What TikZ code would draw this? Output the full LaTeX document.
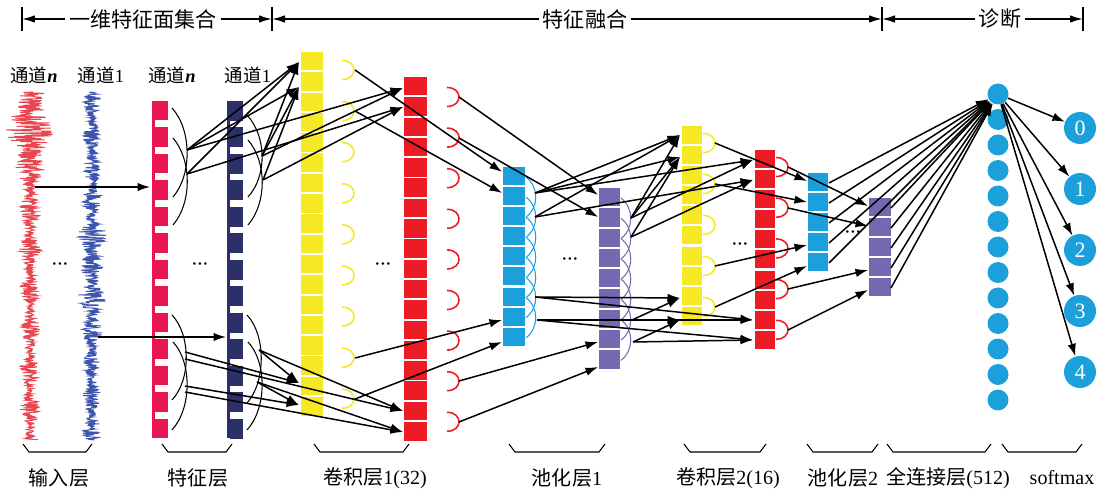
\documentclass[tikz,border=0pt]{standalone}
\usepackage{fontspec}
\setmainfont{Liberation Serif}
\newfontfamily\cjk{Noto Sans CJK SC}
\usetikzlibrary{arrows.meta}
\definecolor{sigred}{RGB}{232,70,80}
\definecolor{sigblue}{RGB}{60,85,175}
\definecolor{featred}{RGB}{232,22,82}
\definecolor{navy}{RGB}{43,48,104}
\definecolor{ylw}{RGB}{246,232,36}
\definecolor{cred}{RGB}{237,28,36}
\definecolor{nnblue}{RGB}{27,160,219}
\definecolor{purp}{RGB}{116,105,176}
\newcommand\cells[7]{\foreach \k in {1,...,#4}{\fill[#7] (#1,{#3+(\k-1)*#6}) rectangle ({#1+#2},{#3+(\k-1)*#6+#5});}}
\newcommand\darc[3]{\draw[#3, line width=0.9pt] (#1,{#2-9.5}) .. controls ({#1+16},{#2-9.5}) and ({#1+16},{#2+9.5}) .. (#1,{#2+9.5});}
\newcommand\xarcs[5]{\foreach \k in {1,...,#4}{\draw[#5, line width=0.6pt] (#1,{#2+(\k-1)*#3}) .. controls ({#1+13},{#2+(\k-1)*#3+10}) and ({#1+13},{#2+(\k+1)*#3-10}) .. (#1,{#2+(\k+1)*#3});}}
\newcommand\brkt[2]{\draw[brk] (#1,444) -- ({#1+6},452) -- ({#2-6},452) -- (#2,444);}
\begin{document}
\begin{tikzpicture}[x=0.02cm,y=-0.02cm,
  arr/.style={-{Latex[length=2.5mm,width=1.7mm]}, line width=0.85pt},
  hdr/.style={-{Latex[length=2.6mm,width=1.5mm]}, line width=0.9pt},
  tickline/.style={line width=0.7pt},
  brk/.style={line width=0.6pt},
  farc/.style={line width=0.6pt},
  hlbl/.style={font=\fontsize{12}{14}\selectfont, inner sep=2pt},
  blbl/.style={font=\fontsize{11.4}{13}\selectfont, inner sep=0pt},
  tlbl/.style={font=\fontsize{10.5}{12}\selectfont, inner sep=0pt},
  dotsn/.style={font=\fontsize{6}{7}\selectfont, inner sep=0pt},
  fcn/.style={circle, fill=nnblue, minimum size=0.42cm, inner sep=0pt},
  smn/.style={circle, fill=nnblue, minimum size=0.64cm, inner sep=0pt, text=white, font=\fontsize{12.5}{14}\selectfont}]
\useasboundingbox (0,0) rectangle (1106,489);

% ---------- header ----------
\draw[tickline] (22,7) -- (22,31);
\draw[tickline] (272,7) -- (272,31);
\draw[tickline] (882,7) -- (882,31);
\draw[tickline] (1083,7) -- (1083,31);
\coordinate (k1) at (22,19);
\coordinate (k2) at (272,19);
\coordinate (k3) at (882,19);
\coordinate (k4) at (1083,19);
\node[hlbl] (h1) at (143,19) {\cjk 一维特征面集合};
\node[hlbl] (h2) at (585,19) {\cjk 特征融合};
\node[hlbl] (h3) at (1000,19) {\cjk 诊断};
\draw[hdr] (h1.west) -- (k1);
\draw[hdr] (h1.east) -- (k2);
\draw[hdr] (h2.west) -- (k2);
\draw[hdr] (h2.east) -- (k3);
\draw[hdr] (h3.west) -- (k3);
\draw[hdr] (h3.east) -- (k4);

% ---------- channel labels ----------
\node[tlbl] (c1) at (34,75) {{\cjk 通道}\textbf{\textit{n}}};
\node[tlbl] (c2) at (101,75) {{\cjk 通道}1};
\node[tlbl] (c3) at (172,75) {{\cjk 通道}\textbf{\textit{n}}};
\node[tlbl] (c4) at (248,75) {{\cjk 通道}1};

% ---------- signals ----------
\pgfmathsetseed{7}
\draw[sigred, line width=0.5pt] plot[domain=92:440, samples=800, variable=\t]
  ({30+rand*(7+15/(1+((\t-130)/24)^2)+3.5*sin(\t*9))},\t);
\draw[sigblue, line width=0.5pt] plot[domain=92:440, samples=800, variable=\t]
  ({92+rand*(6.5+6/(1+((\t-240)/14)^2)+6/(1+((\t-300)/14)^2)+3*sin(\t*11+40))},\t);
\node[dotsn] (d1) at (60,265) {\textbullet\,\textbullet\,\textbullet};

% ---------- feature layer ----------
\fill[featred] (152,101) rectangle (155,438);
\cells{155}{13}{101}{13}{19.5}{26.5}{featred}
\fill[navy] (227,101) rectangle (230,438);
\cells{230}{13}{101}{13}{20}{26.5}{navy}
\node[dotsn] (d2) at (200,265) {\textbullet\,\textbullet\,\textbullet};
% arcs
\draw[farc] (172,108) .. controls (192,130) and (192,175) .. (173,197);
\draw[farc] (173,138) .. controls (192,160) and (192,203) .. (173,225);
\draw[farc] (172,315) .. controls (191,335) and (191,380) .. (172,400);
\draw[farc] (173,342) .. controls (192,362) and (192,408) .. (172,430);
\draw[farc] (247,115) .. controls (267,137) and (267,176) .. (248,197);
\draw[farc] (248,140) .. controls (267,162) and (267,203) .. (248,225);
\draw[farc] (247,315) .. controls (266,335) and (266,382) .. (247,403);
\draw[farc] (248,342) .. controls (267,362) and (267,408) .. (247,430);

% input arrows
\coordinate (sr) at (35,187);
\coordinate (fr) at (150,187);
\coordinate (sb) at (98,337);
\coordinate (fb) at (226,337);
\draw[arr] (sr) -- (fr);
\draw[arr] (sb) -- (fb);

% ---------- conv layer 1 ----------
\cells{301}{22}{52}{18}{18.5}{20.3}{ylw}
\cells{404}{23}{77}{18}{18.5}{20.3}{cred}
\foreach \i in {0,...,8}{\darc{342}{70+41.1*\i}{ylw}}
\foreach \i in {0,...,8}{\darc{447}{97+40.6*\i}{cred}}
\node[dotsn] (d3) at (383,265) {\textbullet\,\textbullet\,\textbullet};

% feature -> conv1
\coordinate (fa1) at (187,150);
\coordinate (fa2) at (187,174);
\coordinate (fb1) at (262,156);
\coordinate (fb2) at (263,180);
\coordinate (fa3) at (185,352);
\coordinate (fa3b) at (185,359);
\coordinate (fa4) at (185,386);
\coordinate (fa4b) at (185,392);
\coordinate (fb3) at (259,350);
\coordinate (fb4) at (257,382);
\coordinate (y1t1) at (299,62);
\coordinate (y1t2) at (299,87);
\coordinate (y1t3) at (299,383);
\coordinate (y1t4) at (299,405);
\coordinate (r1t1) at (403,88);
\coordinate (r1t2) at (403,107);
\coordinate (r1t3) at (403,411);
\coordinate (r1t4) at (403,432);
\draw[arr] (fa1) -- (y1t1);
\draw[arr] (fa1) -- (y1t2);
\draw[arr] (fa1) -- (r1t1);
\draw[arr] (fa2) -- (y1t1);
\draw[arr] (fa2) -- (r1t2);
\draw[arr] (fb1) -- (y1t1);
\draw[arr] (fb1) -- (y1t2);
\draw[arr] (fb1) -- (r1t1);
\draw[arr] (fb2) -- (y1t2);
\draw[arr] (fb2) -- (r1t2);
\draw[arr] (fa3) -- (y1t3);
\draw[arr] (fa3b) -- (r1t3);
\draw[arr] (fa4) -- (y1t4);
\draw[arr] (fa4b) -- (r1t4);
\draw[arr] (fb3) -- (y1t3);
\draw[arr] (fb3) -- (r1t3);
\draw[arr] (fb4) -- (y1t4);
\draw[arr] (fb4) -- (r1t4);

% ---------- pool layer 1 ----------
\cells{503}{22}{167}{9}{18}{20.1}{nnblue}
\cells{599}{21}{188}{9}{18.3}{20.3}{purp}
\xarcs{526}{177}{20.1}{7}{nnblue}
\xarcs{621}{198}{20.3}{7}{purp}
\node[dotsn] (d4) at (570,260) {\textbullet\,\textbullet\,\textbullet};

% conv1 -> pool1
\coordinate (ya1) at (355,70);
\coordinate (ya2) at (355,111);
\coordinate (ya8) at (355,358);
\coordinate (ya9) at (355,399);
\coordinate (ra1) at (459,97);
\coordinate (ra2) at (459,138);
\coordinate (ra8) at (459,381);
\coordinate (ra9) at (459,422);
\coordinate (b1t1) at (502,172);
\coordinate (b1t2) at (502,193);
\coordinate (b1t3) at (502,320);
\coordinate (b1t4) at (502,342);
\coordinate (p1t1) at (598,195);
\coordinate (p1t2) at (598,217);
\coordinate (p1t3) at (598,342);
\coordinate (p1t4) at (598,367);
\draw[arr] (ya1) -- (b1t1);
\draw[arr] (ya2) -- (b1t2);
\draw[arr] (ya8) -- (b1t3);
\draw[arr] (ya9) -- (b1t4);
\draw[arr] (ra1) -- (p1t1);
\draw[arr] (ra2) -- (p1t2);
\draw[arr] (ra8) -- (p1t3);
\draw[arr] (ra9) -- (p1t4);

% ---------- conv layer 2 ----------
\cells{682}{20}{126}{10}{18}{20.1}{ylw}
\cells{755}{20}{150}{10}{18}{20.1}{cred}
\foreach \i in {0,...,4}{\darc{703}{143+41*\i}{ylw}}
\foreach \i in {0,...,4}{\darc{776}{167+40.7*\i}{cred}}
\node[dotsn] (d5) at (740,245) {\textbullet\,\textbullet\,\textbullet};

% pool1 -> conv2
\coordinate (bs1) at (535,193);
\coordinate (bs2) at (535,217);
\coordinate (bs3) at (535,297);
\coordinate (bs4) at (537,320);
\coordinate (ps1) at (631,218);
\coordinate (ps2) at (631,237);
\coordinate (ps3) at (632,320);
\coordinate (ps4) at (633,342);
\coordinate (y2t1) at (680,135);
\coordinate (y2t2) at (680,157);
\coordinate (y2t3) at (680,298);
\coordinate (y2t4) at (680,320);
\coordinate (r2t1) at (753,160);
\coordinate (r2t2) at (753,180);
\coordinate (r2t3) at (753,320);
\coordinate (r2t4) at (753,340);
\draw[arr] (bs1) -- (y2t1);
\draw[arr] (bs1) -- (y2t2);
\draw[arr] (bs1) -- (r2t1);
\draw[arr] (bs2) -- (y2t1);
\draw[arr] (bs2) -- (r2t2);
\draw[arr] (ps1) -- (y2t1);
\draw[arr] (ps1) -- (y2t2);
\draw[arr] (ps1) -- (r2t1);
\draw[arr] (ps2) -- (y2t2);
\draw[arr] (ps2) -- (r2t2);
\draw[arr] (bs3) -- (y2t3);
\draw[arr] (bs3) -- (r2t3);
\draw[arr] (bs4) -- (y2t4);
\draw[arr] (bs4) -- (r2t4);
\draw[arr] (ps3) -- (y2t3);
\draw[arr] (ps3) -- (r2t3);
\draw[arr] (ps4) -- (y2t4);
\draw[arr] (ps4) -- (r2t4);

% ---------- pool layer 2 ----------
\cells{808}{20}{173}{5}{18}{20}{nnblue}
\cells{869}{22}{198}{5}{18}{20}{purp}
\node[dotsn] (d6) at (853,233) {\textbullet\,\textbullet\,\textbullet};

% conv2 -> pool2
\coordinate (yb1) at (715,143);
\coordinate (yb2) at (715,184);
\coordinate (yb4) at (715,266);
\coordinate (yb5) at (715,307);
\coordinate (rb1) at (788,167);
\coordinate (rb2) at (788,208);
\coordinate (rb4) at (788,289);
\coordinate (rb5) at (788,330);
\coordinate (b2t1) at (807,181);
\coordinate (b2t2) at (807,202);
\coordinate (b2t3) at (807,245);
\coordinate (b2t4) at (807,266);
\coordinate (p2t1) at (868,206);
\coordinate (p2t2) at (868,226);
\coordinate (p2t3) at (868,270);
\coordinate (p2t4) at (868,290);
\draw[arr] (yb1) -- (b2t1);
\draw[arr] (yb2) -- (b2t2);
\draw[arr] (yb4) -- (b2t3);
\draw[arr] (yb5) -- (b2t4);
\draw[arr] (rb1) -- (p2t1);
\draw[arr] (rb2) -- (p2t2);
\draw[arr] (rb4) -- (p2t3);
\draw[arr] (rb5) -- (p2t4);

% ---------- fully connected ----------
\foreach \i in {0,...,12}{\node[fcn] (fc\i) at (998,{94+25.5*\i}) {};}
\foreach \i in {0,...,4}{
  \coordinate (bo\i) at (829,{183+20*\i});
  \coordinate (po\i) at (891,{208+20*\i});
  \draw[arr] (bo\i) -- (fc0);
  \draw[arr] (po\i) -- (fc0);
}

% ---------- softmax ----------
\foreach \i in {0,...,4}{
  \node[smn] (s\i) at (1080,{128+61*\i}) {\i};
  \draw[arr] (fc0) -- (s\i);
}

% ---------- bottom brackets and labels ----------
\brkt{23}{92}
\brkt{162}{232}
\brkt{314}{409}
\brkt{509}{605}
\brkt{684}{766}
\brkt{807}{878}
\brkt{887}{991}
\brkt{1002}{1082}
\node[blbl] (l1) at (59,478) {\cjk 输入层};
\node[blbl] (l2) at (198,478) {\cjk 特征层};
\node[blbl] (l3) at (375,478) {{\cjk 卷积层}1(32)};
\node[blbl] (l4) at (567,478) {{\cjk 池化层}1};
\node[blbl] (l5) at (728,478) {{\cjk 卷积层}2(16)};
\node[blbl] (l6) at (843,478) {{\cjk 池化层}2};
\node[blbl] (l7) at (948,478) {{\cjk 全连接层}(512)};
\node[blbl] (l8) at (1062,478) {softmax};
\end{tikzpicture}
\end{document}
